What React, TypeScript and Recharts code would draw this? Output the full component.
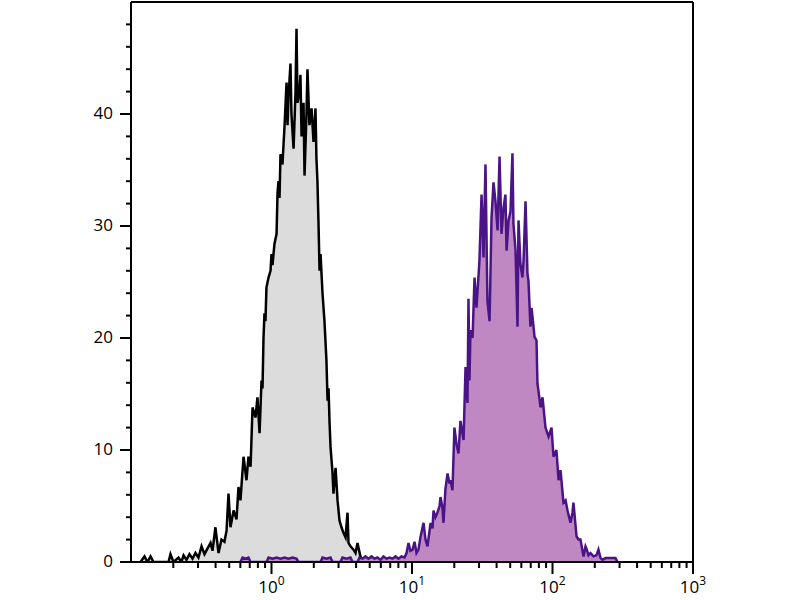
import { ComposedChart, Area, XAxis, YAxis, ReferenceLine } from "recharts"

// Flow cytometry histograms: x in log10 fluorescence units, y = cell count per channel
const decades = [0, 1, 2, 3]
const minorSteps = [2, 3, 4, 5, 6, 7, 8, 9]
const countTicks = [0, 2, 4, 6, 8, 10, 12, 14, 16, 18, 20, 22, 24, 26, 28, 30, 32, 34, 36, 38, 40, 42, 44, 46, 48]
const countLabels = [0, 10, 20, 30, 40]

// isotype / unstained control (grey)
const controlHistogram: [number, number][] = [
  [-0.932, 0], [-0.904, 0.5], [-0.883, 0], [-0.861, 0.5], [-0.84, 0], [-0.733, 0], [-0.719, 0.7],
  [-0.698, 0], [-0.662, 0.4], [-0.641, 0], [-0.626, 0.6], [-0.605, 0.2], [-0.584, 0.7], [-0.562, 0.3],
  [-0.541, 0.8], [-0.52, 0.4], [-0.498, 1.4], [-0.477, 0.7], [-0.456, 1.2], [-0.434, 1.7], [-0.42, 1.0],
  [-0.399, 3.1], [-0.377, 0.8], [-0.356, 2.0], [-0.335, 1.8], [-0.32, 2.8], [-0.306, 6.1], [-0.292, 3.1],
  [-0.27, 4.6], [-0.249, 3.8], [-0.235, 6.7], [-0.221, 5.5], [-0.199, 9.4], [-0.178, 7.3], [-0.164, 9.4],
  [-0.149, 8.5], [-0.135, 13.8], [-0.114, 12.9], [-0.1, 14.7], [-0.085, 11.5], [-0.071, 16.2],
  [-0.064, 15.5], [-0.057, 20], [-0.05, 22.2], [-0.043, 21.5], [-0.036, 24.5], [-0.028, 25],
  [-0.021, 25.4], [-0.007, 26], [0, 27.5], [0.007, 26.5], [0.021, 28.4], [0.036, 29.3], [0.043, 33],
  [0.05, 34], [0.057, 32.5], [0.064, 36.4], [0.078, 35.5], [0.093, 39], [0.107, 42.8], [0.114, 39],
  [0.121, 41.5], [0.135, 44.5], [0.142, 40], [0.157, 36.9], [0.171, 42], [0.178, 47.6], [0.185, 41],
  [0.199, 42], [0.206, 43.5], [0.214, 38], [0.228, 41], [0.235, 34.5], [0.249, 40], [0.256, 44],
  [0.27, 39], [0.285, 40.5], [0.299, 37.5], [0.313, 40.5], [0.32, 36], [0.327, 34], [0.335, 30],
  [0.342, 26], [0.349, 27.5], [0.363, 24], [0.377, 21.5], [0.391, 18], [0.399, 14.4], [0.406, 15.5],
  [0.413, 12.5], [0.42, 10.3], [0.434, 8], [0.441, 6.1], [0.456, 8.4], [0.47, 5.5], [0.484, 3.7],
  [0.498, 3.1], [0.512, 2.6], [0.527, 2.2], [0.541, 4.4], [0.548, 1.7], [0.562, 1.4], [0.584, 1.1],
  [0.598, 0.8], [0.612, 1.7], [0.633, 0.5], [0.648, 0.2], [0.669, 0],
]

// stained sample (purple)
const stainedHistogram: [number, number][] = [
  [-0.221, 0], [-0.206, 0.4], [-0.185, 0.3], [-0.164, 0.4], [-0.149, 0], [-0.036, 0], [-0.021, 0.4],
  [0.007, 0.3], [0.036, 0.4], [0.064, 0.3], [0.093, 0.4], [0.121, 0.3], [0.149, 0.4], [0.178, 0.3],
  [0.192, 0], [0.349, 0], [0.363, 0.4], [0.391, 0.3], [0.42, 0.4], [0.434, 0], [0.491, 0], [0.505, 0.4],
  [0.534, 0.3], [0.562, 0.4], [0.577, 0], [0.612, 0], [0.626, 0.4], [0.648, 0.3], [0.669, 0.5],
  [0.69, 0.3], [0.712, 0.5], [0.733, 0.3], [0.754, 0.4], [0.776, 0.2], [0.797, 0.5], [0.819, 0.3],
  [0.84, 0.4], [0.861, 0.3], [0.883, 0.5], [0.904, 0.3], [0.925, 0.5], [0.947, 0.4], [0.961, 0.8],
  [0.975, 1.7], [0.989, 1.0], [1.004, 1.1], [1.018, 1.8], [1.032, 0.8], [1.046, 1.1], [1.06, 2.2],
  [1.082, 3.5], [1.096, 2.0], [1.11, 1.4], [1.125, 2.8], [1.132, 3.5], [1.146, 3.0], [1.153, 4.6],
  [1.167, 4.0], [1.181, 4.4], [1.196, 5.0], [1.203, 5.8], [1.217, 4.8], [1.224, 3.5], [1.238, 6.5],
  [1.253, 7.9], [1.267, 7.0], [1.274, 7.3], [1.288, 6.4], [1.302, 12.0], [1.317, 10.5], [1.331, 9.7],
  [1.345, 12.6], [1.359, 11.5], [1.367, 10.9], [1.381, 17.4], [1.395, 14.2], [1.402, 23.5],
  [1.409, 16.2], [1.416, 20.7], [1.431, 20], [1.445, 25.4], [1.459, 22.7], [1.48, 26.9], [1.495, 32.8],
  [1.509, 27.2], [1.523, 35.5], [1.537, 23.3], [1.552, 21.5], [1.566, 30.7], [1.58, 33.9], [1.594, 32.2],
  [1.609, 29.6], [1.623, 36.2], [1.637, 29.3], [1.651, 31.6], [1.665, 32.8], [1.673, 27.8], [1.687, 30.5],
  [1.701, 31.3], [1.715, 36.5], [1.722, 30.2], [1.737, 27.8], [1.751, 21], [1.758, 30.5], [1.772, 26.6],
  [1.786, 25.4], [1.794, 26.9], [1.808, 32.2], [1.822, 25.7], [1.829, 25.1], [1.843, 21], [1.851, 22.7],
  [1.865, 21], [1.872, 20.1], [1.886, 19.8], [1.893, 15.9], [1.9, 15.3], [1.915, 13.8], [1.929, 14.7],
  [1.95, 12], [1.972, 11.2], [1.993, 12], [2.007, 9.4], [2.028, 10], [2.043, 7.3], [2.057, 8.2],
  [2.078, 5.3], [2.093, 5.5], [2.107, 4.6], [2.128, 3.5], [2.142, 4.4], [2.149, 5.3], [2.171, 2.3],
  [2.185, 2.0], [2.199, 2.0], [2.221, 0.5], [2.235, 1.4], [2.242, 1.2], [2.256, 0.6], [2.27, 0.8],
  [2.292, 0.5], [2.313, 0.6], [2.327, 1.1], [2.342, 0.35], [2.356, 0.2], [2.377, 0.35], [2.413, 0.35],
  [2.448, 0.35], [2.463, 0],
]

const toRows = (pts: [number, number][]) => pts.map(([logFL, count]) => ({ logFL, count }))

const logTicks = [
  ...decades,
  ...[-1, 0, 1, 2].flatMap(d => minorSteps.map(m => d + Math.log10(m))),
].sort((a, b) => a - b)

const FONT = "'Open Sans', 'DejaVu Sans', sans-serif"

function FluorTick({ x, y, payload }: any) {
  const v = payload.value as number
  const major = Math.abs(v - Math.round(v)) < 1e-6
  return (
    <g>
      <line x1={x} x2={x} y1={y} y2={y + (major ? 12 : 6)} stroke="#000" strokeWidth={2} />
      {major && (
        <text x={x} y={y + 31} textAnchor="middle" fontSize={17} fill="#000" fontFamily={FONT}>
          10<tspan dy={-8} fontSize={12}>{Math.round(v)}</tspan>
        </text>
      )}
    </g>
  )
}

function CountTick({ x, y, payload }: any) {
  const v = payload.value as number
  const major = countLabels.includes(v)
  return (
    <g>
      <line x1={x} x2={x - (major ? 11 : 5)} y1={y} y2={y} stroke="#000" strokeWidth={2} />
      {major && (
        <text x={x - 18} y={y} dy={5} textAnchor="end" fontSize={17} fill="#000" fontFamily={FONT}>
          {v}
        </text>
      )}
    </g>
  )
}

export default function App() {
  return (
    <div style={{ position: "absolute", left: 0, top: 0, background: "#fff" }}>
      <ComposedChart width={800} height={600} margin={{ top: 2, right: 107, bottom: 0, left: 0 }}>
        <XAxis
          type="number"
          dataKey="logFL"
          domain={[-1, 3]}
          ticks={logTicks}
          allowDataOverflow
          height={38}
          tickLine={false}
          tickSize={0}
          tickMargin={0}
          axisLine={{ stroke: "#000", strokeWidth: 2 }}
          tick={<FluorTick />}
          interval={0}
        />
        <YAxis
          type="number"
          domain={[0, 50]}
          ticks={countTicks}
          allowDataOverflow
          width={131}
          tickLine={false}
          tickSize={0}
          tickMargin={0}
          axisLine={{ stroke: "#000", strokeWidth: 2 }}
          tick={<CountTick />}
          interval={0}
        />
        <Area
          data={toRows(controlHistogram)}
          dataKey="count"
          type="linear"
          stroke="#000"
          strokeWidth={2.5}
          fill="#dcdcdc"
          fillOpacity={1}
          dot={false}
          activeDot={false}
          isAnimationActive={false}
        />
        <Area
          data={toRows(stainedHistogram)}
          dataKey="count"
          type="linear"
          stroke="#4a1486"
          strokeWidth={2.5}
          fill="#c088c3"
          fillOpacity={1}
          dot={false}
          activeDot={false}
          isAnimationActive={false}
        />
        <ReferenceLine y={50} stroke="#000" strokeWidth={2} />
        <ReferenceLine x={3} stroke="#000" strokeWidth={2} />
      </ComposedChart>
    </div>
  )
}
